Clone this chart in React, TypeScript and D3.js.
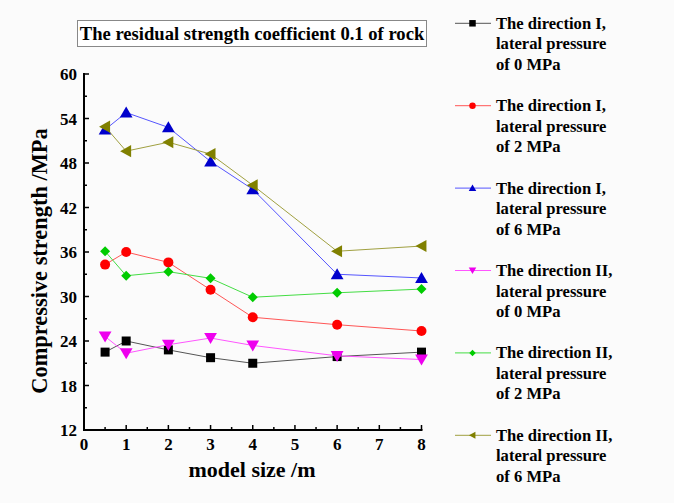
import React, { useEffect, useRef } from "react";
import * as d3 from "d3";

const xValues = [0.5, 1, 2, 3, 4, 6, 8];
const dirI_0 = [22.5, 24.0, 22.8, 21.75, 21.0, 21.9, 22.5];
const dirI_2 = [34.3, 36.0, 34.6, 30.9, 27.2, 26.2, 25.35];
const dirI_6 = [52.5, 54.8, 52.8, 48.2, 44.45, 33.0, 32.5];
const dirII_0 = [24.6, 22.35, 23.5, 24.4, 23.4, 22.0, 21.5];
const dirII_2 = [36.1, 32.8, 33.35, 32.45, 29.9, 30.5, 31.0];
const dirII_6 = [52.9, 49.6, 50.8, 49.2, 45.0, 36.1, 36.8];

const seriesNames = [
  ["The direction I,", "lateral pressure", "of 0 MPa"],
  ["The direction I,", "lateral pressure", "of 2 MPa"],
  ["The direction I,", "lateral pressure", "of 6 MPa"],
  ["The direction II,", "lateral pressure", "of 0 MPa"],
  ["The direction II,", "lateral pressure", "of 2 MPa"],
  ["The direction II,", "lateral pressure", "of 6 MPa"],
];
const seriesValues = [dirI_0, dirI_2, dirI_6, dirII_0, dirII_2, dirII_6];
const markerColors = ["#000000", "#ff0000", "#0000cc", "#ee00ee", "#00cc00", "#808000"];
const lineColors = ["#555555", "#ff5555", "#5555ff", "#ff55ff", "#44dd44", "#a0a040"];
const markerTypes = ["square", "circle", "up", "down", "diamond", "left"];

const xTicks = [0, 1, 2, 3, 4, 5, 6, 7, 8];
const yTicks = [12, 18, 24, 30, 36, 42, 48, 54, 60];

const titleText = "The residual strength coefficient 0.1 of rock";
const xTitle = "model size /m";
const yTitle = "Compressive strength /MPa";

const FONT = "'Liberation Serif', 'Times New Roman', serif";

function markerPath(type: string, size: number): string {
  const s = size;
  switch (type) {
    case "square":
      return `M${-s / 2},${-s / 2}h${s}v${s}h${-s}Z`;
    case "circle":
      return d3.symbol(d3.symbolCircle, (Math.PI * s * s) / 4)() as string;
    case "up":
      return `M0,${-s * 0.55}L${s * 0.58},${s * 0.45}L${-s * 0.58},${s * 0.45}Z`;
    case "down":
      return `M0,${s * 0.55}L${s * 0.58},${-s * 0.45}L${-s * 0.58},${-s * 0.45}Z`;
    case "diamond":
      return `M0,${-s / 2}L${s / 2},0L0,${s / 2}L${-s / 2},0Z`;
    case "left":
      return `M${-s * 0.55},0L${s * 0.45},${-s * 0.55}L${s * 0.45},${s * 0.55}Z`;
  }
  return "";
}

export default function App() {
  const ref = useRef<SVGSVGElement | null>(null);

  useEffect(() => {
    const svg = d3.select(ref.current);
    svg.selectAll("*").remove();

    const W = 674, H = 503;
    const left = 84, right = 421.5, top = 74, bottom = 430;

    svg.append("rect").attr("width", W).attr("height", H).attr("fill", "#fbfbfb");

    const x = d3.scaleLinear().domain([0, 8]).range([left, right]);
    const y = d3.scaleLinear().domain([12, 60]).range([bottom, top]);

    // Title box
    const tg = svg.append("g");
    tg.append("rect")
      .attr("x", 77.5).attr("y", 20.5).attr("width", 349).attr("height", 26)
      .attr("fill", "#ffffff").attr("stroke", "#888888").attr("stroke-width", 1);
    tg.append("text")
      .attr("x", 252).attr("y", 40).attr("text-anchor", "middle")
      .attr("font-family", FONT).attr("font-weight", "bold").attr("font-size", 18.6)
      .attr("fill", "#000").text(titleText);

    // Axes
    const ax = svg.append("g");
    const xMinor = d3.range(0.5, 8, 1);
    const yMinor = d3.range(15, 60, 6);
    ax.selectAll(".xmaj").data(xTicks).join("line")
      .attr("x1", (d) => x(d)).attr("x2", (d) => x(d))
      .attr("y1", bottom).attr("y2", bottom - 5)
      .attr("stroke", "#000").attr("stroke-width", 1.5);
    ax.selectAll(".xmin").data(xMinor).join("line")
      .attr("x1", (d) => x(d)).attr("x2", (d) => x(d))
      .attr("y1", bottom).attr("y2", bottom - 3)
      .attr("stroke", "#000").attr("stroke-width", 1.5);
    ax.selectAll(".ymaj").data(yTicks).join("line")
      .attr("x1", left).attr("x2", left + 5)
      .attr("y1", (d) => y(d)).attr("y2", (d) => y(d))
      .attr("stroke", "#000").attr("stroke-width", 1.5);
    ax.selectAll(".ymin").data(yMinor).join("line")
      .attr("x1", left).attr("x2", left + 3)
      .attr("y1", (d) => y(d)).attr("y2", (d) => y(d))
      .attr("stroke", "#000").attr("stroke-width", 1.5);
    ax.append("line").attr("x1", left).attr("x2", right + 1)
      .attr("y1", bottom).attr("y2", bottom).attr("stroke", "#000").attr("stroke-width", 2);
    ax.append("line").attr("x1", left).attr("x2", left)
      .attr("y1", top - 1).attr("y2", bottom + 1).attr("stroke", "#000").attr("stroke-width", 2);

    ax.selectAll(".xl").data(xTicks).join("text")
      .attr("x", (d) => x(d)).attr("y", bottom + 20)
      .attr("text-anchor", "middle").attr("font-family", FONT)
      .attr("font-weight", "bold").attr("font-size", 17).text((d) => String(d));
    ax.selectAll(".yl").data(yTicks).join("text")
      .attr("x", left - 7).attr("y", (d) => y(d) + 6)
      .attr("text-anchor", "end").attr("font-family", FONT)
      .attr("font-weight", "bold").attr("font-size", 17).text((d) => String(d));

    svg.append("text")
      .attr("x", 252).attr("y", 477).attr("text-anchor", "middle")
      .attr("font-family", FONT).attr("font-weight", "bold").attr("font-size", 22)
      .text(xTitle);
    svg.append("text")
      .attr("transform", `translate(47,261) rotate(-90)`)
      .attr("text-anchor", "middle")
      .attr("font-family", FONT).attr("font-weight", "bold").attr("font-size", 22.4)
      .text(yTitle);

    // Series
    const line = d3.line<number>().x((_, i) => x(xValues[i])).y((d) => y(d));
    seriesValues.forEach((vals, si) => {
      const g = svg.append("g");
      g.append("path").attr("d", line(vals) as string)
        .attr("fill", "none").attr("stroke", lineColors[si]).attr("stroke-width", 1);
      const size = markerTypes[si] === "square" ? 9 : markerTypes[si] === "circle" ? 10 : markerTypes[si] === "diamond" ? 10 : 11;
      g.selectAll("path.m").data(vals).join("path")
        .attr("class", "m")
        .attr("transform", (d, i) => `translate(${x(xValues[i])},${y(d)})`)
        .attr("d", markerPath(markerTypes[si], size))
        .attr("fill", markerColors[si]);
    });

    // Legend
    const legTop = 23.3, legStep = 82.4;
    seriesNames.forEach((lines, si) => {
      const cy = legTop + si * legStep;
      const g = svg.append("g");
      g.append("line").attr("x1", 455).attr("x2", 491).attr("y1", cy).attr("y2", cy)
        .attr("stroke", lineColors[si]).attr("stroke-width", 1);
      g.append("path").attr("transform", `translate(472.5,${cy})`)
        .attr("d", markerPath(markerTypes[si], 6.5)).attr("fill", markerColors[si]);
      lines.forEach((t, li) => {
        g.append("text").attr("x", 496).attr("y", cy + 5.5 + li * 20.5)
          .attr("font-family", FONT).attr("font-weight", "bold").attr("font-size", 16.6)
          .text(t);
      });
    });
  }, []);

  return (
    <svg
      ref={ref}
      width={674}
      height={503}
      style={{ position: "absolute", left: 0, top: 0, display: "block" }}
    />
  );
}
